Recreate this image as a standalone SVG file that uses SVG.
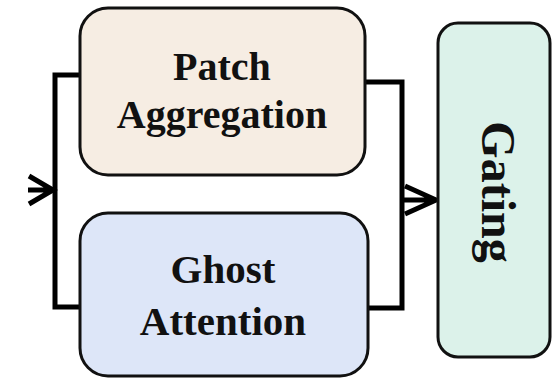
<svg xmlns="http://www.w3.org/2000/svg" width="552" height="380" viewBox="0 0 552 380">
<style>
.box{stroke:#111;stroke-width:3}
.lbl{font-family:"Liberation Serif","Times New Roman",serif;font-weight:bold;fill:#111;text-anchor:middle}
.wire{fill:none;stroke:#000;stroke-width:5;stroke-linejoin:miter}
</style>
<rect width="552" height="380" fill="#fff"/>
<g id="connectors">
<path class="wire" d="M80,75 H55 V307 H80"/>
<path class="wire" d="M28,190 H53 M29,176 L53,190 L29,204"/>
<path class="wire" d="M365,82 H402 V308 H368"/>
<path class="wire" d="M402,200 H436 M405,186 L436,200 L405,214"/>
</g>
<g id="patch">
<rect class="box" x="80" y="8" width="285" height="167" rx="28" fill="#f6ede3"/>
<text class="lbl" x="222" y="80" font-size="40">Patch</text>
<text class="lbl" x="222" y="128" font-size="40">Aggregation</text>
</g>
<g id="ghost">
<rect class="box" x="80" y="213" width="288" height="163" rx="28" fill="#dde6f8"/>
<text class="lbl" x="223" y="283" font-size="41">Ghost</text>
<text class="lbl" x="223" y="335" font-size="41">Attention</text>
</g>
<g id="gating">
<rect class="box" x="438" y="23" width="112" height="334" rx="20" fill="#dcf2ea"/>
<text class="lbl" font-size="48" transform="translate(482,192) rotate(90)">Gating</text>
</g>
</svg>
